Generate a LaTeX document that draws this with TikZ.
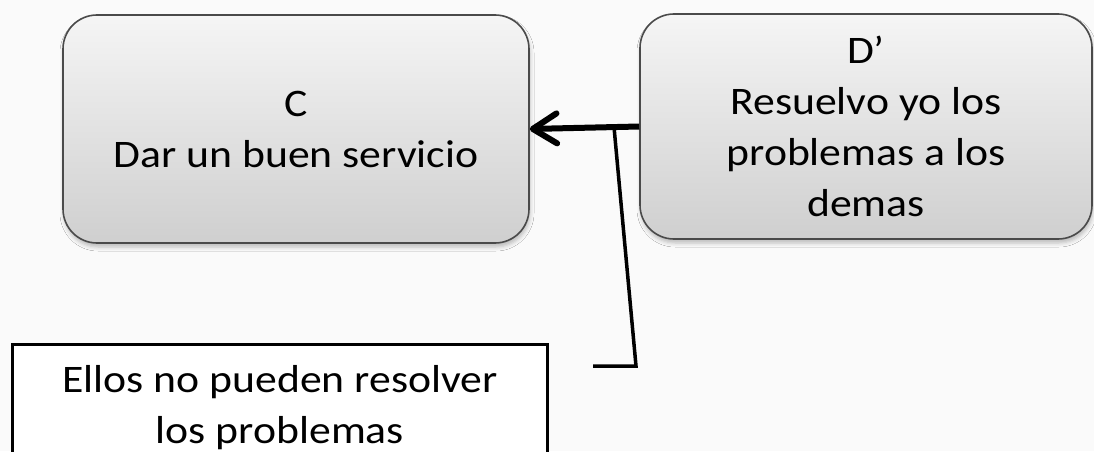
\documentclass[tikz,border=0pt]{standalone}
\usepackage{fontspec}
\setmainfont{Carlito}[FakeStretch=1.12]
\usetikzlibrary{arrows.meta,shadows.blur}
\definecolor{bg}{HTML}{FAFAFA}
\definecolor{boxtop}{HTML}{F5F5F5}
\definecolor{boxbot}{HTML}{CFCFCF}
\definecolor{boxedge}{HTML}{4A4A4A}
\tikzset{
  graybox/.style={draw=boxedge, line width=1.6pt, rounded corners=34pt,
    top color=boxtop, bottom color=boxbot, align=center,
    font=\fontsize{39}{51}\selectfont,
    blur shadow={shadow xshift=1pt, shadow yshift=-4pt, shadow blur radius=4pt, shadow opacity=25}},
  plainbox/.style={draw=black, line width=3pt, fill=white, align=center,
    font=\fontsize{39}{51}\selectfont},
  mainarrow/.style={line width=6pt, -{Straight Barb[length=24pt,width=30pt,line width=6pt,round]}},
  thinline/.style={line width=3.5pt}
}
\begin{document}
\begin{tikzpicture}[x=1pt,y=1pt]
\useasboundingbox[fill=bg] (0,0) rectangle (1094,451);
\node[graybox, minimum width=466pt, minimum height=228pt] (C) at (296,322)
  {C\\Dar un buen servicio};
\node[graybox, minimum width=452pt, minimum height=225pt] (D) at (866,324.5)
  {D’\\Resuelvo yo los\\problemas a los\\demas};
\node[plainbox, minimum width=535pt, minimum height=128pt] (E) at (280,43)
  {Ellos no pueden resolver\\los problemas};
\draw[mainarrow] (D.west) -- (C.east);
\coordinate (j) at (614,324);
\coordinate (k) at (636,85);
\coordinate (m) at (593,85);
\draw[thinline] (j) -- (k) -- (m);
\end{tikzpicture}
\end{document}
